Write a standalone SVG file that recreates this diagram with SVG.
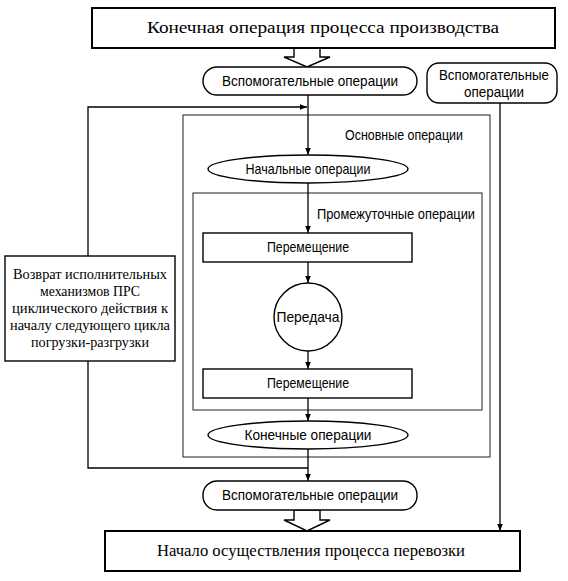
<svg xmlns="http://www.w3.org/2000/svg" width="568" height="581" viewBox="0 0 568 581">
<defs>
<marker id="ah" viewBox="0 0 10 10" refX="10" refY="5" markerWidth="7" markerHeight="7" markerUnits="userSpaceOnUse" orient="auto">
<path d="M0,1 L10,5 L0,9 Z" fill="#000"/>
</marker>
</defs>
<style>
.b{fill:#fff;stroke:#000;stroke-width:1.4}
.bt{fill:#fff;stroke:#000;stroke-width:2}
.f{fill:none;stroke:#333;stroke-width:1.1}
.c{fill:none;stroke:#000;stroke-width:1.3}
.h{fill:#fff;stroke:#000;stroke-width:1.4}
.s{font-family:"Liberation Sans Narrow","Liberation Sans",Arial,sans-serif;font-size:14.5px;fill:#000}
.r{font-family:"Liberation Serif","Times New Roman",serif;fill:#000}
</style>
<rect width="568" height="581" fill="#fff"/>
<g id="frame-main"><rect class="f" x="183" y="115" width="307" height="342"/><text class="s" x="404" y="140" text-anchor="middle" textLength="118" lengthAdjust="spacingAndGlyphs">Основные операции</text></g>
<g id="frame-inter"><rect class="f" x="193" y="193" width="289" height="217"/><text class="s" x="396" y="219" text-anchor="middle" textLength="158" lengthAdjust="spacingAndGlyphs">Промежуточные операции</text></g>
<g id="connectors">
<polygon class="h" points="294,48 294,57 284,57 307,67 330,57 320,57 320,48"/>
<polygon class="h" points="294,510 294,520 284,520 307,531 330,520 320,520 320,510"/>
<line class="c" x1="308" y1="95" x2="308" y2="155" marker-end="url(#ah)"/>
<path class="c" d="M88,256 V107 H307" marker-end="url(#ah)"/>
<path class="c" d="M88,361 V468 H308"/>
<line class="c" x1="308" y1="183" x2="308" y2="233" marker-end="url(#ah)"/>
<line class="c" x1="308" y1="262" x2="308" y2="283" marker-end="url(#ah)"/>
<line class="c" x1="308" y1="351" x2="308" y2="369" marker-end="url(#ah)"/>
<line class="c" x1="308" y1="398" x2="308" y2="421" marker-end="url(#ah)"/>
<line class="c" x1="308" y1="449" x2="308" y2="481" marker-end="url(#ah)"/>
<line class="c" x1="500" y1="103" x2="500" y2="531" marker-end="url(#ah)"/>
</g>
<g id="n-top"><rect class="bt" x="92" y="8" width="463" height="40"/><text class="r" x="323" y="33" font-size="16.5" text-anchor="middle" textLength="352" lengthAdjust="spacingAndGlyphs">Конечная операция процесса производства</text></g>
<g id="n-aux1"><rect class="b" x="203" y="67" width="214" height="28" rx="14"/><text class="s" x="310" y="86" text-anchor="middle" textLength="176" lengthAdjust="spacingAndGlyphs">Вспомогательные операции</text></g>
<g id="n-aux-right"><rect class="b" x="427" y="63" width="130" height="40" rx="12"/><text class="s" x="494" y="80" text-anchor="middle" textLength="110" lengthAdjust="spacingAndGlyphs">Вспомогательные</text><text class="s" x="494" y="97" text-anchor="middle" textLength="60" lengthAdjust="spacingAndGlyphs">операции</text></g>
<g id="n-return"><rect class="b" x="5" y="256" width="170" height="105"/>
<text class="r" font-size="15.5" text-anchor="middle"><tspan x="90" y="279" textLength="154" lengthAdjust="spacingAndGlyphs">Возврат исполнительных</tspan><tspan x="90" y="296" textLength="100" lengthAdjust="spacingAndGlyphs">механизмов ПРС</tspan><tspan x="90" y="313" textLength="156" lengthAdjust="spacingAndGlyphs">циклического действия к</tspan><tspan x="90" y="330" textLength="160" lengthAdjust="spacingAndGlyphs">началу следующего цикла</tspan><tspan x="90" y="347" textLength="118" lengthAdjust="spacingAndGlyphs">погрузки-разгрузки</tspan></text></g>
<g id="n-start"><ellipse class="b" cx="308" cy="169" rx="100" ry="14"/><text class="s" x="308" y="174" text-anchor="middle" textLength="125" lengthAdjust="spacingAndGlyphs">Начальные операции</text></g>
<g id="n-move1"><rect class="b" x="203" y="233" width="209" height="29"/><text class="s" x="308" y="252" text-anchor="middle" textLength="82" lengthAdjust="spacingAndGlyphs">Перемещение</text></g>
<g id="n-transfer"><circle class="b" cx="308" cy="317" r="34"/><text class="s" x="308" y="322" text-anchor="middle" textLength="63" lengthAdjust="spacingAndGlyphs">Передача</text></g>
<g id="n-move2"><rect class="b" x="203" y="369" width="209" height="29"/><text class="s" x="308" y="388" text-anchor="middle" textLength="82" lengthAdjust="spacingAndGlyphs">Перемещение</text></g>
<g id="n-end"><ellipse class="b" cx="308" cy="435" rx="100" ry="14"/><text class="s" x="308" y="440" text-anchor="middle" textLength="127" lengthAdjust="spacingAndGlyphs">Конечные операции</text></g>
<g id="n-aux2"><rect class="b" x="203" y="481" width="214" height="29" rx="14"/><text class="s" x="310" y="500" text-anchor="middle" textLength="176" lengthAdjust="spacingAndGlyphs">Вспомогательные операции</text></g>
<g id="n-bottom"><rect class="bt" x="105" y="531" width="415" height="40"/><text class="r" x="311" y="556" font-size="16.5" text-anchor="middle" textLength="308" lengthAdjust="spacingAndGlyphs">Начало осуществления процесса перевозки</text></g>
</svg>
